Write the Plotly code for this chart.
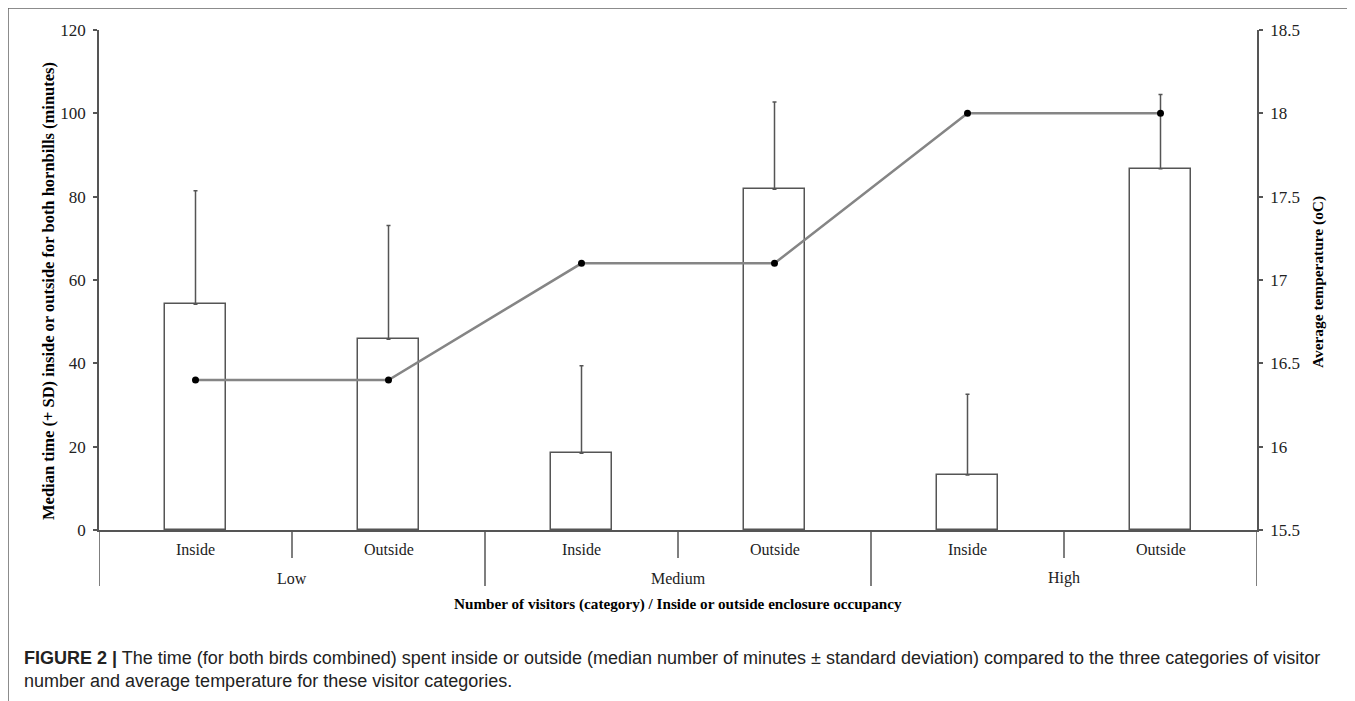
import plotly.graph_objects as go

# ---- data ----
groups = ["Low", "Medium", "High"]
locations = ["Inside", "Outside"]
median_time = [54.2, 45.8, 18.4, 81.8, 13.2, 86.7]
sd_time = [27.2, 27.3, 21.0, 20.9, 19.4, 17.8]
avg_temp = [16.4, 16.4, 17.1, 17.1, 18.0, 18.0]
left_ticks = [0, 20, 40, 60, 80, 100, 120]
right_ticks = [15.5, 16, 16.5, 17, 17.5, 18, 18.5]

x_title = "Number of visitors (category) / Inside or outside enclosure occupancy"
y_title = "Median time (+ SD) inside or outside for both hornbills (minutes)"
y2_title = "Average temperature (oC)"
caption_1 = ("<b>FIGURE 2 |</b> The time (for both birds combined) spent inside or outside "
             "(median number of minutes \u00b1 standard deviation) compared to the three categories of visitor")
caption_2 = "number and average temperature for these visitor categories."

sub_labels = [loc for g in groups for loc in locations]
xs = list(range(len(sub_labels)))

SERIF = "Liberation Serif"
SANS = "Liberation Sans"
AX = "#555555"
TXT = "#222222"

# page body has an 8px default margin, so figure is sized/offset to compensate
OFF = 8
PL, PT = 99 - OFF, 30 - OFF          # plot area top-left in figure coords
PW, PH = 1158, 500

fig = go.Figure()
fig.add_trace(go.Bar(
    x=xs, y=median_time, width=0.314,
    marker=dict(color="white", line=dict(color=AX, width=1.5)),
    error_y=dict(type="data", symmetric=False, array=sd_time,
                 arrayminus=[0] * len(sd_time), color=AX, thickness=1.5, width=2),
    showlegend=False, hoverinfo="skip",
))
fig.add_trace(go.Scatter(
    x=xs, y=avg_temp, yaxis="y2", mode="lines+markers",
    line=dict(color="#858585", width=2.5),
    marker=dict(color="black", size=7),
    showlegend=False, hoverinfo="skip",
))

W, H = 1355 - OFF, 701 - OFF
n = len(xs)
fig.update_layout(
    width=W, height=H,
    margin=dict(l=PL, r=W - PL - PW, t=PT, b=H - PT - PH),
    paper_bgcolor="white", plot_bgcolor="white",
    bargap=0,
    xaxis=dict(range=[-0.5, n - 0.5], showticklabels=False, ticks="",
               showline=True, linecolor=AX, linewidth=1.5,
               showgrid=False, zeroline=False, fixedrange=True),
    yaxis=dict(range=[0, 120], tickvals=left_ticks, ticks="outside", ticklen=4,
               tickcolor=AX, tickwidth=1.5, showline=True, linecolor=AX, linewidth=1.5,
               showgrid=False, zeroline=False, ticklabelstandoff=4,
               tickfont=dict(family=SERIF, size=17, color=TXT)),
    yaxis2=dict(range=[15.5, 18.5], tickvals=right_ticks, overlaying="y", side="right",
                ticks="outside", ticklen=4, tickcolor=AX, tickwidth=1.5,
                showline=True, linecolor=AX, linewidth=1.5, showgrid=False,
                zeroline=False, ticklabelstandoff=4,
                tickfont=dict(family=SERIF, size=17, color=TXT)),
)


def px_x(sx):
    return (sx - 99) / PW


def px_y(sy):
    return (530 - sy) / PH


shapes = []
for g in range(len(groups)):
    xb = g * len(locations) + 0.5
    shapes.append(dict(type="line", xref="x", yref="paper", x0=xb, x1=xb,
                       y0=0, y1=px_y(558), line=dict(color=AX, width=1.5)))
for g in range(len(groups) + 1):
    xb = g * len(locations) - 0.5
    shapes.append(dict(type="line", xref="x", yref="paper", x0=xb, x1=xb,
                       y0=0, y1=px_y(586), line=dict(color=AX, width=1.5)))
fx, fy = px_x(8), px_y(8)
shapes.append(dict(type="line", xref="paper", yref="paper", x0=fx, x1=1.3,
                   y0=fy, y1=fy, line=dict(color="#666666", width=1.5)))
shapes.append(dict(type="line", xref="paper", yref="paper", x0=fx, x1=fx,
                   y0=fy, y1=-0.5, line=dict(color="#666666", width=1.5)))
fig.update_layout(shapes=shapes)

ann = []
for i, lab in zip(xs, sub_labels):
    ann.append(dict(x=i, y=px_y(549), xref="x", yref="paper", text=lab, showarrow=False,
                    xanchor="center", yanchor="middle",
                    font=dict(family=SERIF, size=16, color=TXT)))
for g, lab in enumerate(groups):
    xc = g * len(locations) + (len(locations) - 1) / 2
    ann.append(dict(x=xc, y=px_y(578), xref="x", yref="paper", text=lab, showarrow=False,
                    xanchor="center", yanchor="middle",
                    font=dict(family=SERIF, size=16, color=TXT)))
ann.append(dict(x=0.5, y=px_y(604), xref="paper", yref="paper", text="<b>" + x_title + "</b>",
                showarrow=False, xanchor="center", yanchor="middle",
                font=dict(family=SERIF, size=15.2, color="black")))
ann.append(dict(x=px_x(48), y=px_y(291), xref="paper", yref="paper",
                text="<b>" + y_title + "</b>", textangle=-90, showarrow=False,
                xanchor="center", yanchor="middle",
                font=dict(family=SERIF, size=16.5, color="black")))
ann.append(dict(x=px_x(1318), y=px_y(282), xref="paper", yref="paper",
                text="<b>" + y2_title + "</b>", textangle=-90, showarrow=False,
                xanchor="center", yanchor="middle",
                font=dict(family=SERIF, size=15.4, color="black")))
cx = px_x(22)
ann.append(dict(x=cx, y=px_y(658), xref="paper", yref="paper", text=caption_1,
                showarrow=False, xanchor="left", yanchor="middle",
                font=dict(family=SANS, size=18, color=TXT)))
ann.append(dict(x=cx, y=px_y(681), xref="paper", yref="paper", text=caption_2,
                showarrow=False, xanchor="left", yanchor="middle",
                font=dict(family=SANS, size=18, color=TXT)))
fig.update_layout(annotations=ann)

fig.write_html("out.html")
